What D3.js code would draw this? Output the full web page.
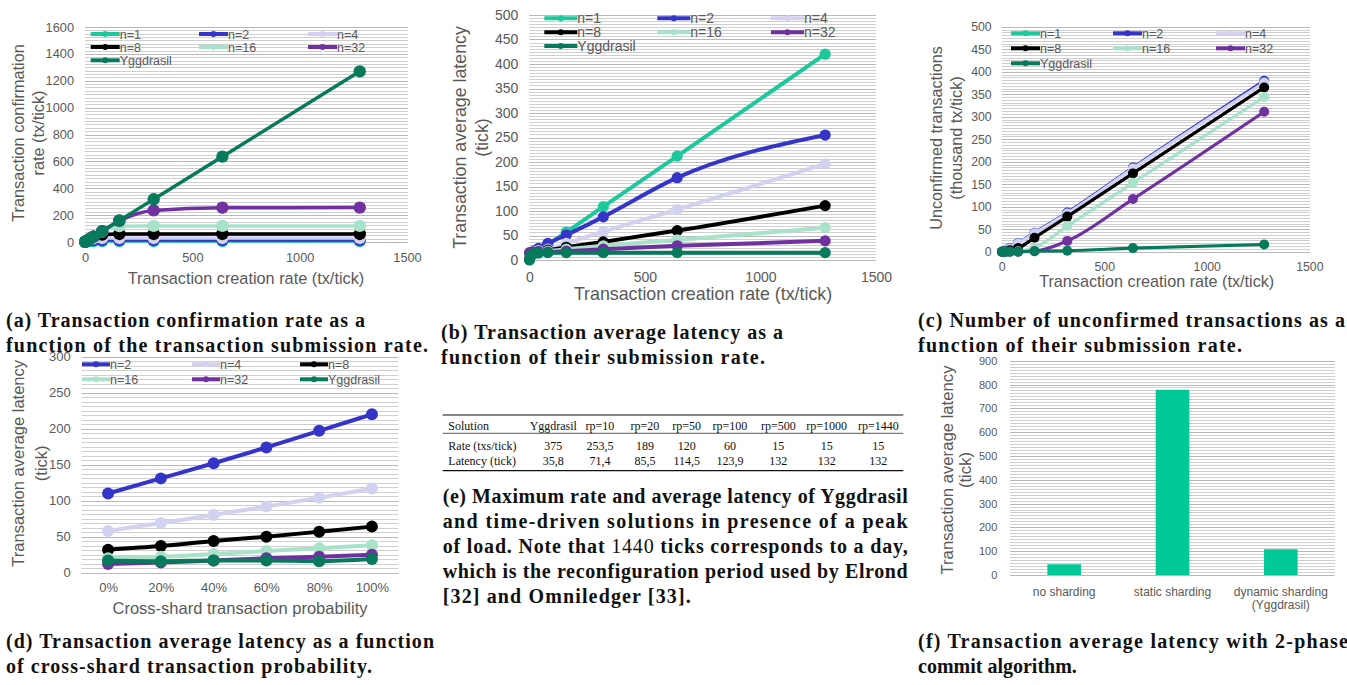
<!DOCTYPE html>
<html>
<head>
<meta charset="utf-8">
<script src="https://cdn.jsdelivr.net/npm/d3@7"></script>
<style>
body { margin: 0; background: #fff; }
svg text { font-family: "Liberation Sans", Arial, sans-serif; }
.cap { font-family: "Liberation Serif", "Times New Roman", serif; font-weight: bold; font-size: 20px; fill: #111; }
.tbl { font-family: "Liberation Serif", "Times New Roman", serif; font-size: 12px; fill: #111; }
</style>
</head>
<body>
<svg id="fig" width="1347" height="685"></svg>
<script>
// ---- data ----
const rates = [1, 5, 10, 20, 40, 80, 160, 320, 640, 1280];
const seriesNames = ["n=1", "n=2", "n=4", "n=8", "n=16", "n=32", "Yggdrasil"];

// (a) confirmation rate, one row per series
const confirmRate = [
  [1, 5, 7, 7, 7, 7, 7, 7, 7, 7],
  [1, 5, 10, 14, 15, 15, 15, 15, 15, 15],
  [1, 5, 10, 20, 28, 30, 30, 30, 30, 30],
  [1, 5, 10, 20, 40, 55, 60, 60, 60, 60],
  [1, 5, 10, 20, 40, 78, 118, 120, 120, 120],
  [1, 5, 10, 20, 40, 80, 158, 235, 255, 256],
  [1, 5, 10, 20, 40, 80, 160, 318, 635, 1270]
];
// (b) average latency
const latency = [
  [2, 8, 12, 16, 22, 32, 57, 109, 212, 420],
  [3, 10, 14, 18, 24, 34, 51, 88, 168, 255],
  [5, 10, 13, 16, 19, 22, 34, 58, 103, 196],
  [8, 11, 13, 15, 17, 20, 26, 37, 60, 111],
  [10, 12, 13, 14, 16, 18, 22, 29, 41, 66],
  [15, 15, 15, 15, 16, 16, 18, 22, 29, 39],
  [0, 8, 11, 13, 14, 15, 15, 15, 15, 15]
];
// (c) unconfirmed transactions (thousand)
const unconfirmed = [
  [0, 0, 1, 3, 8, 19, 41, 86, 186, 377],
  [0, 0, 1, 3, 8, 19, 42, 87, 187, 380],
  [0, 0, 1, 3, 7, 18, 41, 85, 185, 376],
  [0, 0, 0, 1, 3, 8, 31, 78, 174, 365],
  [0, 0, 0, 0, 0, 1, 9, 57, 153, 344],
  [0, 0, 0, 0, 0, 0, 1, 24, 117, 311],
  [0, 0, 0, 0, 0, 0, 1, 2, 8, 16]
];
// (d) latency vs cross-shard probability
const crossProb = ["0%", "20%", "40%", "60%", "80%", "100%"];
const crossNames = ["n=2", "n=4", "n=8", "n=16", "n=32", "Yggdrasil"];
const crossLatency = [
  [110, 131, 152, 174, 197, 220],
  [58, 69, 80, 92, 104, 117],
  [32, 37, 44, 50, 57, 64],
  [20, 22, 26, 30, 34, 38],
  [12, 14, 17, 20, 22, 25],
  [17, 16, 17, 17, 16, 19]
];
// (f) 2-phase commit
const commitCats = ["no sharding", "static sharding", "dynamic sharding\n(Yggdrasil)"];
const commitLatency = [45, 778, 108];

// (e) table
const tableHead = ["Solution", "Yggdrasil", "rp=10", "rp=20", "rp=50", "rp=100", "rp=500", "rp=1000", "rp=1440"];
const tableRate = ["Rate (txs/tick)", "375", "253,5", "189", "120", "60", "15", "15", "15"];
const tableLatency = ["Latency (tick)", "35,8", "71,4", "85,5", "114,5", "123,9", "132", "132", "132"];

// ticks
const rateTicks = [0, 500, 1000, 1500];
const confTicks = [0, 200, 400, 600, 800, 1000, 1200, 1400, 1600];
const ticks500 = [0, 50, 100, 150, 200, 250, 300, 350, 400, 450, 500];
const ticks300 = [0, 50, 100, 150, 200, 250, 300];
const ticks900 = [0, 100, 200, 300, 400, 500, 600, 700, 800, 900];

const colors = {
  "n=1": "#1dc99b", "n=2": "#3434c8", "n=4": "#d2d2f0", "n=8": "#000000",
  "n=16": "#a8e2c9", "n=32": "#7030a0", "Yggdrasil": "#067a5a"
};
const grey = "#595959";
const svg = d3.select("#fig");

function grid(g, y, yMax, minor, major, left, right) {
  g.append("g").selectAll("line")
    .data(d3.range(0, yMax + minor / 2, minor))
    .join("line")
    .attr("x1", left).attr("x2", right)
    .attr("y1", d => Math.round(y(d)) + 0.5).attr("y2", d => Math.round(y(d)) + 0.5)
    .attr("stroke", d => Math.abs(d / major - Math.round(d / major)) < 1e-6 ? "#b8b8b8" : "#cfcfcf")
    .attr("stroke-width", 1);
}

function yAxis(g, y, ticks, xr, fs) {
  const ax = g.append("g").attr("transform", `translate(${xr},0)`)
    .call(d3.axisLeft(y).tickValues(ticks).tickFormat(d3.format("d")).tickSize(0).tickPadding(0));
  ax.select(".domain").remove();
  ax.selectAll("text").attr("font-size", fs).attr("font-family", "Liberation Sans, Arial, sans-serif").attr("fill", grey);
}

function xAxis(g, x, ticks, cy, fs, fmt) {
  const axis = d3.axisBottom(x).tickValues(ticks).tickSize(0).tickPadding(0);
  if (fmt) axis.tickFormat(fmt);
  const ax = g.append("g").attr("transform", `translate(0,${cy - 0.36 * fs})`).call(axis);
  ax.select(".domain").remove();
  ax.selectAll("text").attr("font-size", fs).attr("font-family", "Liberation Sans, Arial, sans-serif").attr("fill", grey);
}

function yTitle(g, lines, cy, fs) {
  lines.forEach(l => {
    g.append("text").attr("transform", `translate(${l[1]},${cy}) rotate(-90)`)
      .attr("text-anchor", "middle").attr("dy", ".35em")
      .attr("font-size", fs).attr("fill", grey).text(l[0]);
  });
}

function legend(g, names, cols, rows, len, fs) {
  names.forEach((n, i) => {
    const lx = cols[i % 3], ly = rows[Math.floor(i / 3)];
    g.append("line").attr("x1", lx).attr("x2", lx + len).attr("y1", ly).attr("y2", ly)
      .attr("stroke", colors[n]).attr("stroke-width", 4);
    g.append("circle").attr("cx", lx + len / 2).attr("cy", ly).attr("r", 3).attr("fill", colors[n]);
    g.append("text").attr("x", lx + len).attr("y", ly).attr("dy", ".36em")
      .attr("font-size", fs).attr("fill", grey).text(n);
  });
}

function lineChart(o) {
  const g = svg.append("g");
  const y = d3.scaleLinear().domain([0, o.yMax]).range([o.bottom, o.top]);
  const x = o.x;
  grid(g, y, o.yMax, o.yTicks[1] / 8, o.yTicks[1], o.left, o.right);
  yAxis(g, y, o.yTicks, o.labelRight, o.tickFs);
  xAxis(g, x, o.xTicks, o.xTickCy, o.tickFs, o.xFmt);
  g.append("text").attr("x", o.xTitle[0]).attr("y", o.xTitle[1]).attr("dy", ".35em")
    .attr("text-anchor", "middle").attr("font-size", o.titleFs).attr("fill", grey).text(o.xTitleText);
  yTitle(g, o.yTitles, o.yTitleCy, o.titleFs);
  legend(g, o.names, o.legCols, o.legRows, o.legLen, o.legFs);
  const line = d3.line().curve(d3.curveMonotoneX);
  o.series.forEach((vals, i) => {
    const c = colors[o.names[i]];
    const pts = vals.map((v, j) => [x(o.xs[j]), y(v)]);
    g.append("path").attr("d", line(pts)).attr("fill", "none")
      .attr("stroke", c).attr("stroke-width", o.lw).attr("stroke-linejoin", "round");
    g.append("g").selectAll("circle").data(pts).join("circle")
      .attr("cx", d => d[0]).attr("cy", d => d[1]).attr("r", o.r).attr("fill", c);
  });
}

const intFmt = d3.format("d");

// (a)
lineChart({
  left: 85, right: 408, top: 27, bottom: 242, yMax: 1600, yTicks: confTicks,
  x: d3.scaleLinear().domain([0, 1500]).range([85, 407]), xs: rates, xTicks: rateTicks, xFmt: intFmt,
  labelRight: 74, tickFs: 12.8, xTickCy: 257.7,
  xTitle: [246, 278], xTitleText: "Transaction creation rate (tx/tick)", titleFs: 16.3,
  yTitles: [["Transaction confirmation", 18], ["rate (tx/tick)", 38]], yTitleCy: 133,
  names: seriesNames, series: confirmRate, lw: 3.5, r: 6.2,
  legCols: [90.7, 199, 308], legRows: [34, 47, 60.3], legLen: 29, legFs: 12.5
});
// (b)
lineChart({
  left: 529.3, right: 876, top: 15, bottom: 260, yMax: 500, yTicks: ticks500,
  x: d3.scaleLinear().domain([0, 1500]).range([529.3, 876]), xs: rates, xTicks: rateTicks, xFmt: intFmt,
  labelRight: 518.3, tickFs: 14, xTickCy: 276.7,
  xTitle: [703, 293.3], xTitleText: "Transaction creation rate (tx/tick)", titleFs: 17.8,
  yTitles: [["Transaction average latency", 460], ["(tick)", 481.7]], yTitleCy: 137.5,
  names: seriesNames, series: latency, lw: 4, r: 5.6,
  legCols: [544.3, 657.3, 771], legRows: [18.3, 32.3, 46], legLen: 33, legFs: 14
});
// (c)
lineChart({
  left: 1001.7, right: 1310, top: 26.7, bottom: 251.7, yMax: 500, yTicks: ticks500,
  x: d3.scaleLinear().domain([0, 1500]).range([1001.7, 1309.3]), xs: rates, xTicks: rateTicks, xFmt: intFmt,
  labelRight: 991.7, tickFs: 12.3, xTickCy: 266.7,
  xTitle: [1156.7, 281.7], xTitleText: "Transaction creation rate (tx/tick)", titleFs: 16.2,
  yTitles: [["Unconfirmed transactions", 936.7], ["(thousand tx/tick)", 956.7]], yTitleCy: 138,
  names: seriesNames, series: unconfirmed, lw: 3.2, r: 5,
  legCols: [1011, 1113, 1216], legRows: [33.3, 48.3, 63.3], legLen: 29, legFs: 12.5
});
// (d)
lineChart({
  left: 81.7, right: 398.3, top: 356.7, bottom: 572.7, yMax: 300, yTicks: ticks300,
  x: d3.scalePoint().domain(crossProb).range([81.7, 398.3]).padding(0.5), xs: crossProb, xTicks: crossProb,
  labelRight: 70.7, tickFs: 13, xTickCy: 587.3,
  xTitle: [240, 608.3], xTitleText: "Cross-shard transaction probability", titleFs: 16.5,
  yTitles: [["Transaction average latency", 18.3], ["(tick)", 41.7]], yTitleCy: 463.3,
  names: crossNames, series: crossLatency, lw: 4, r: 6,
  legCols: [82, 192, 300], legRows: [364.3, 379.3], legLen: 28, legFs: 12.5
});

// (f) bar chart
(function () {
  const g = svg.append("g");
  const y = d3.scaleLinear().domain([0, 900]).range([575, 360.7]);
  const x = d3.scaleBand().domain(commitCats).range([1010, 1335]).paddingInner(0.69).paddingOuter(0.345);
  grid(g, y, 900, 12.5, 100, 1010, 1335);
  yAxis(g, y, ticks900, 997.3, 11);
  yTitle(g, [["Transaction average latency", 946.7], ["(tick)", 965]], 470, 16.7);
  g.selectAll("rect").data(commitCats).join("rect")
    .attr("x", d => x(d)).attr("width", x.bandwidth())
    .attr("y", (d, i) => y(commitLatency[i])).attr("height", (d, i) => y(0) - y(commitLatency[i]))
    .attr("fill", "#00c896");
  commitCats.forEach(c => {
    c.split("\n").forEach((t, k) => {
      g.append("text").attr("x", x(c) + x.bandwidth() / 2).attr("y", 591.7 + k * 13.5).attr("dy", ".35em")
        .attr("text-anchor", "middle").attr("font-size", 12).attr("fill", grey).text(t);
    });
  });
})();

// (e) table
(function () {
  const g = svg.append("g");
  const colX = [448.3, 553.3, 600, 645, 686.7, 730, 778.3, 826.7, 878.3];
  g.append("line").attr("x1", 442.7).attr("x2", 903.3).attr("y1", 415).attr("y2", 415).attr("stroke", "#111").attr("stroke-width", 1.2);
  g.append("line").attr("x1", 442.7).attr("x2", 903.3).attr("y1", 433.3).attr("y2", 433.3).attr("stroke", "#111").attr("stroke-width", 0.7);
  g.append("line").attr("x1", 442.7).attr("x2", 903.3).attr("y1", 470.7).attr("y2", 470.7).attr("stroke", "#111").attr("stroke-width", 1.2);
  [[tableHead, 430], [tableRate, 449.5], [tableLatency, 465]].forEach(([row, yy]) => {
    row.forEach((t, i) => {
      g.append("text").attr("class", "tbl").attr("x", colX[i]).attr("y", yy)
        .attr("text-anchor", i === 0 ? "start" : "middle").text(t);
    });
  });
})();

// captions (x, baseline y, justified width or null, text)
const captions = [
  [6, 327, 359, "(a) Transaction confirmation rate as a"],
  [6, 352, 422, "function of the transaction submission rate."],
  [441, 339, 342, "(b) Transaction average latency as a"],
  [441, 364, 324, "function of their submission rate."],
  [918, 327, 427, "(c) Number of unconfirmed transactions as a"],
  [918, 352, 324, "function of their submission rate."],
  [6, 648, 428, "(d) Transaction average latency as a function"],
  [6, 673, 366, "of cross-shard transaction probability."],
  [442.7, 503.3, 465, "(e) Maximum rate and average latency of Yggdrasil"],
  [442.7, 528.3, 465, "and time-driven solutions in presence of a peak"],
  [442.7, 553.3, 465, null],
  [442.7, 578.3, 465, "which is the reconfiguration period used by Elrond"],
  [442.7, 603.3, 248, "[32] and Omniledger [33]."],
  [918, 648, 430, "(f) Transaction average latency with 2-phase"],
  [918, 673, null, "commit algorithm."]
];
captions.forEach(([cx, cy, w, t]) => {
  const tx = svg.append("text").attr("class", "cap").attr("x", cx).attr("y", cy);
  if (w) tx.attr("textLength", w).attr("lengthAdjust", "spacing");
  if (t) tx.text(t);
  else {
    tx.append("tspan").text("of load. Note that ");
    tx.append("tspan").attr("font-weight", "normal").text("1440");
    tx.append("tspan").text(" ticks corresponds to a day,");
  }
});
</script>
</body>
</html>
